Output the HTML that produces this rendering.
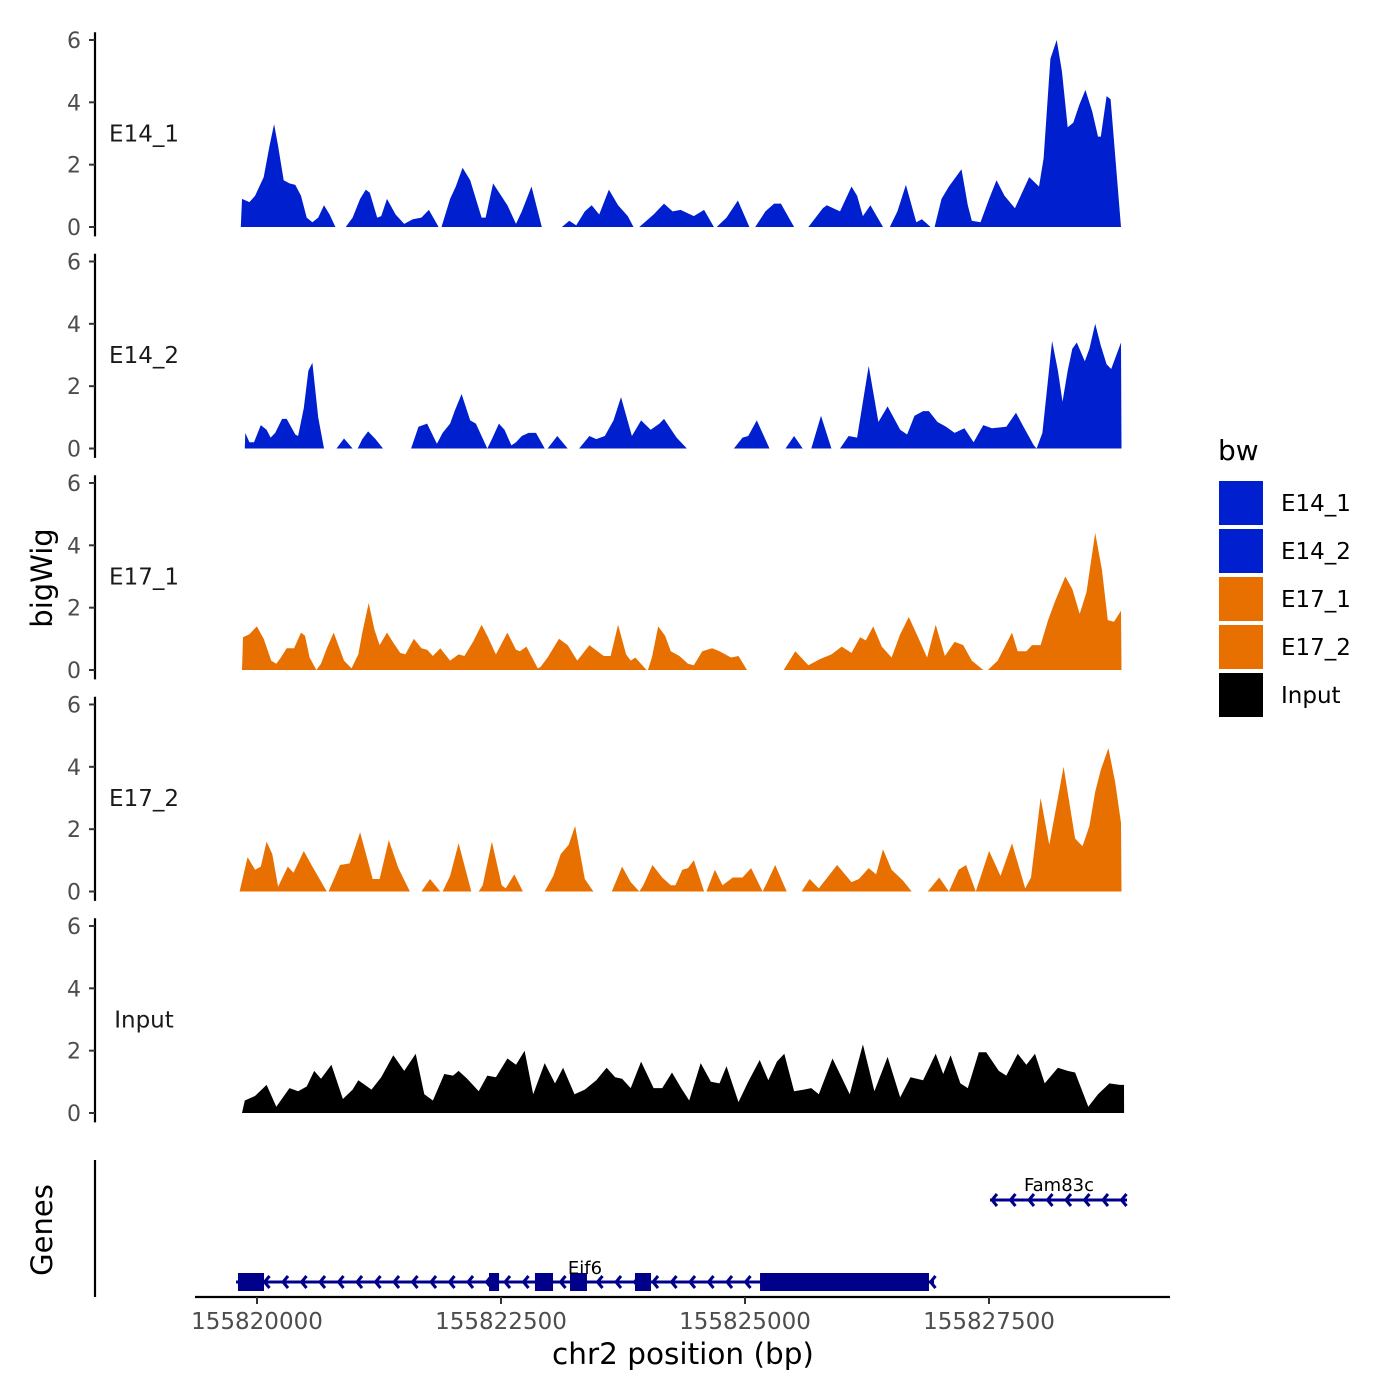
<!DOCTYPE html>
<html><head><meta charset="utf-8"><style>
body{margin:0;background:#fff}
svg{display:block;font-family:"DejaVu Sans","Liberation Sans",sans-serif}
</style></head><body>
<svg id="chart" width="1400" height="1400" viewBox="0 0 1400 1400" xmlns="http://www.w3.org/2000/svg">
<rect width="1400" height="1400" fill="#fff"/>
<g id="tracks"></g>
<g id="genes"></g>
<g id="xaxis"></g>
<text x="52" y="578" font-size="29" text-anchor="middle" transform="rotate(-90 52 578)">bigWig</text>
<text x="52" y="1230" font-size="29" text-anchor="middle" transform="rotate(-90 52 1230)">Genes</text>
<text x="683" y="1364" font-size="29.5" text-anchor="middle">chr2 position (bp)</text>
<g id="legend"></g>
</svg>
<script>
const BASE = 155820000;
const trackNames = ["E14_1","E14_2","E17_1","E17_2","Input"];
const trackColors = ["#0020d0","#0020d0","#e87000","#e87000","#000000"];
const yTicks = [0,2,4,6];
const xTicks = [155820000,155822500,155825000,155827500];
const xTickLabels = ["155820000","155822500","155825000","155827500"];
const N = null;
// positions are bp offsets from BASE; null value separates covered regions
const pos1 = [-166,-154,-78,-19,69,128,175,216,274,333,392,451,509,568,627,686,744,803,N,909,979,1056,1115,1156,1232,1273,1332,1420,1508,1596,1684,1761,1861,N,1890,1978,2037,2107,2184,2301,2342,2419,2566,2654,2713,2812,2918,N,3124,3200,3271,3359,3429,3506,3606,3700,3799,3858,N,3917,4064,4170,4258,4340,4475,4581,4681,N,4710,4810,4927,5045,N,5104,5209,5298,5368,5503,N,5650,5797,5838,5973,6091,6149,6208,6285,6414,N,6484,6561,6649,6755,6813,6902,N,6943,7013,7089,7218,7283,7324,7413,7501,7577,7659,7765,7912,8012,8059,8129,8194,8247,8306,8364,8423,8488,8558,8617,8646,8705,8746,8852];
const val1 = [0,0.9,0.8,1.0,1.6,2.6,3.3,2.6,1.5,1.4,1.35,1.0,0.3,0.15,0.3,0.7,0.4,0,N,0,0.3,0.9,1.2,1.1,0.3,0.35,0.9,0.4,0.1,0.25,0.3,0.55,0,N,0,0.9,1.3,1.9,1.5,0.3,0.3,1.4,0.7,0.1,0.5,1.3,0,N,0,0.2,0.05,0.5,0.7,0.4,1.2,0.7,0.35,0,N,0,0.4,0.75,0.5,0.55,0.35,0.55,0,N,0,0.3,0.85,0,N,0,0.5,0.75,0.75,0,N,0,0.6,0.7,0.5,1.3,1.0,0.35,0.7,0,N,0,0.5,1.35,0.15,0.25,0,N,0,0.9,1.3,1.85,0.7,0.2,0.15,0.9,1.5,1.0,0.6,1.6,1.3,2.2,5.4,6.0,5.0,3.2,3.35,3.9,4.4,3.7,2.9,2.9,4.2,4.1,0];
const pos2 = [-125,-120,-78,-31,39,98,139,186,257,304,392,421,480,527,568,627,686,N,815,891,979,N,1032,1079,1138,1214,1291,N,1579,1655,1743,1843,1902,1978,2025,2096,2184,2243,2360,2407,2478,2536,2607,2654,2713,2783,2859,2948,N,2977,3077,3183,N,3300,3406,3476,3564,3653,3729,3841,3935,4034,4123,4170,4299,4405,N,4886,4974,5033,5121,5251,N,5415,5503,5591,N,5679,5779,5885,N,5973,6061,6149,6208,6267,6367,6461,6590,6661,6737,6825,6884,6972,7060,7148,7248,7342,7442,7530,7677,7777,7853,7959,7988,8047,8147,8206,8253,8306,8353,8400,8482,8529,8588,8646,8705,8752,8852,8858];
const val2 = [0,0.5,0.2,0.2,0.75,0.6,0.35,0.5,0.95,0.95,0.45,0.4,1.3,2.5,2.75,1.0,0,N,0,0.32,0,N,0,0.3,0.55,0.3,0,N,0,0.7,0.8,0.15,0.5,0.8,1.2,1.75,0.9,0.8,0,0.3,0.8,0.6,0.1,0.2,0.4,0.5,0.5,0,N,0,0.4,0,N,0,0.4,0.3,0.4,0.9,1.65,0.4,0.9,0.6,0.8,0.95,0.35,0,N,0,0.35,0.4,0.9,0,N,0,0.4,0,N,0,1.05,0,N,0,0.4,0.35,1.5,2.65,0.85,1.35,0.6,0.45,1.05,1.2,1.2,0.85,0.7,0.5,0.65,0.2,0.75,0.65,0.7,1.15,0.7,0.1,0,0.5,3.45,2.5,1.5,2.5,3.2,3.4,2.8,3.2,4.0,3.3,2.7,2.55,3.4,0];
const pos3 = [-154,-143,-78,-2,69,145,198,245,304,380,451,492,539,609,656,715,786,833,891,968,1038,1079,1144,1203,1256,1332,1391,1467,1520,1608,1684,1743,1802,1878,1978,2066,2125,2213,2301,2360,2448,2566,2654,2695,2760,2877,2906,2977,3094,3183,3282,3406,3488,3553,3623,3700,3782,3829,3876,3976,3993,N,4005,4046,4111,4181,4240,4328,4416,4475,4563,4663,4739,4857,4933,5021,N,5397,5515,5650,5768,5885,5991,6091,6179,6238,6314,6402,6502,6590,6678,6766,6866,6954,7048,7148,7236,7324,7442,N,7489,7589,7736,7794,7883,7941,8029,8106,8176,8282,8353,8429,8499,8588,8658,8717,8781,8852,8858];
const val3 = [0,1.05,1.15,1.4,1.0,0.3,0.2,0.4,0.7,0.7,1.2,1.1,0.4,0,0.2,0.7,1.2,0.8,0.3,0.05,0.5,1.2,2.15,1.3,0.8,1.2,0.9,0.55,0.5,1.0,0.7,0.65,0.45,0.7,0.3,0.5,0.45,0.9,1.45,1.1,0.5,1.2,0.65,0.6,0.75,0.05,0.1,0.4,1.0,0.8,0.3,0.8,0.6,0.45,0.45,1.45,0.5,0.3,0.4,0.05,0,N,0,0.4,1.4,1.1,0.6,0.45,0.2,0.15,0.6,0.7,0.6,0.4,0.45,0,N,0,0.6,0.15,0.35,0.5,0.75,0.55,1.05,0.95,1.4,0.75,0.4,1.15,1.7,1.1,0.4,1.45,0.45,0.9,0.8,0.3,0,N,0,0.3,1.2,0.6,0.6,0.8,0.8,1.6,2.2,3.0,2.6,1.8,2.5,4.4,3.2,1.6,1.55,1.9,0];
const pos4 = [-178,-96,-19,39,98,157,216,316,374,480,568,715,N,733,850,950,1056,1185,1256,1350,1449,1567,N,1684,1773,1878,N,1902,1978,2066,2196,N,2272,2313,2407,2507,2548,2636,2724,N,2948,3036,3112,3194,3259,3359,3447,N,3635,3741,3829,3917,3958,4052,4152,4240,4287,4358,4416,4475,4581,N,4604,4692,4769,4875,4974,5063,5180,5227,5309,5427,N,5580,5662,5756,5944,6091,6167,6267,6343,6414,6502,6619,6708,N,6872,6990,7089,7189,7265,7365,7501,7618,7736,7871,7930,8029,8118,8264,8382,8458,8529,8588,8646,8723,8793,8852,8858];
const val4 = [0,1.1,0.7,0.8,1.6,1.2,0.15,0.8,0.6,1.3,0.8,0,N,0,0.85,0.9,1.9,0.4,0.4,1.65,0.75,0,N,0,0.4,0,N,0,0.5,1.55,0,N,0,0.2,1.6,0.2,0.1,0.55,0,N,0,0.5,1.2,1.5,2.1,0.4,0,N,0,0.8,0.3,0,0.2,0.85,0.45,0.2,0.2,0.7,0.75,1.0,0,N,0,0.7,0.2,0.45,0.45,0.75,0,0.3,0.85,0,N,0,0.4,0.1,0.85,0.3,0.4,0.75,0.55,1.35,0.7,0.35,0,N,0,0.45,0,0.7,0.85,0,1.3,0.5,1.55,0.1,0.45,3.0,1.5,4.0,1.7,1.45,2.1,3.2,3.9,4.6,3.5,2.2,0];
const pos5 = [-154,-125,-19,98,198,333,421,509,586,656,762,880,979,1038,1173,1273,1397,1508,1626,1714,1802,1919,2008,2066,2154,2272,2360,2448,2566,2654,2742,2830,2948,3053,3136,3253,3359,3476,3582,3670,3741,3829,3935,4064,4152,4252,4346,4428,4546,4651,4739,4810,4933,5033,5151,5239,5327,5403,5503,5603,5679,5756,5897,6073,6208,6326,6461,6590,6696,6825,6954,7031,7107,7207,7283,7395,7471,7600,7677,7794,7883,7971,8071,8206,8306,8382,8517,8617,8734,8840,8883,8884];
const val5 = [0,0.4,0.55,0.9,0.2,0.8,0.7,0.85,1.35,1.1,1.55,0.45,0.75,1.05,0.75,1.15,1.85,1.35,1.9,0.6,0.4,1.25,1.2,1.35,1.1,0.7,1.2,1.15,1.75,1.55,2.0,0.6,1.6,0.95,1.45,0.6,0.75,1.05,1.45,1.15,1.1,0.8,1.65,0.8,0.8,1.3,0.8,0.4,1.6,1.0,0.95,1.5,0.35,1.0,1.7,1.05,1.65,1.9,0.7,0.75,0.8,0.6,1.75,0.6,2.2,0.7,1.8,0.5,1.15,1.05,1.9,1.25,1.85,0.95,0.8,1.95,1.95,1.35,1.2,1.9,1.55,1.9,0.95,1.45,1.35,1.3,0.2,0.6,0.95,0.9,0.9,0];
const trackPos = [pos1,pos2,pos3,pos4,pos5];
const trackVals = [val1,val2,val3,val4,val5];
// gene models (bp offsets)
const geneNames = ["Eif6","Fam83c"];
const geneStarts = [-215,7510];
const geneEnds = [6937,8914];
const eifExonStarts = [-195,2377,2848,3207,3873,5154];
const eifExonEnds = [72,2480,3033,3381,4037,6885];

const SVGNS="http://www.w3.org/2000/svg";
function mk(tag,attrs,parent){const e=document.createElementNS(SVGNS,tag);for(const k in attrs)e.setAttribute(k,attrs[k]);parent.appendChild(e);return e;}
function xs(bp){return 257 + (bp - (xTicks[0]-BASE))*(244/2500);}
const PANEL0=227, PSTEP=221.5, UNIT=31.17;
function ys(i,v){return PANEL0 + i*PSTEP - v*UNIT;}

const tracks=document.getElementById('tracks');
for(let i=0;i<5;i++){
  const g=mk('g',{},tracks);
  
  
  const P=trackPos[i], V=trackVals[i];
  let runs=[], cur=[];
  for(let j=0;j<P.length;j++){
    if(V[j]===null){ if(cur.length) runs.push(cur); cur=[]; }
    else cur.push([xs(P[j]),ys(i,V[j])]);
  }
  if(cur.length) runs.push(cur);
  runs.forEach(r=>{
    let d='M'+r[0][0].toFixed(1)+','+ys(i,0).toFixed(1);
    r.forEach(p=>{d+='L'+p[0].toFixed(1)+','+p[1].toFixed(1);});
    d+='L'+r[r.length-1][0].toFixed(1)+','+ys(i,0).toFixed(1)+'Z';
    const a=mk('path',{d:d,fill:trackColors[i]},g);
    
    
  });
  const ax=mk('g',{},g);
  
  
  mk('line',{x1:95,x2:95,y1:ys(i,6.25),y2:ys(i,-0.3),stroke:'#000','stroke-width':2.2},ax);
  yTicks.forEach(t=>{
    mk('line',{x1:89,x2:95,y1:ys(i,t),y2:ys(i,t),stroke:'#333','stroke-width':2},ax);
    const tx=mk('text',{x:81,y:ys(i,t)+8,'font-size':22,'text-anchor':'end',fill:'#4d4d4d'},ax);
    tx.textContent=t;
    
    
  });
  const lb=mk('text',{x:144,y:ys(i,3)+8,'font-size':23,'text-anchor':'middle',fill:'#1a1a1a'},g);
  lb.textContent=trackNames[i];
  
  
}

const gp=document.getElementById('genes');
const GC='#00008b';
mk('line',{x1:95,x2:95,y1:1160,y2:1297,stroke:'#000','stroke-width':2.2},gp);
function chevrons(x1,x2,y,g){
  for(let x=x1+10;x<x2-4;x+=18.5){
    mk('polyline',{points:(x+5)+','+(y-6)+' '+x+','+y+' '+(x+5)+','+(y+6),fill:'none',stroke:GC,'stroke-width':3},g);
  }
}
const eg=mk('g',{},gp);


const ey=1282;
mk('line',{x1:xs(geneStarts[0]),x2:xs(geneEnds[0]),y1:ey,y2:ey,stroke:GC,'stroke-width':3},eg);
chevrons(xs(geneStarts[0]),xs(geneEnds[0])+4,ey,eg);
for(let k=0;k<eifExonStarts.length;k++){
  const r=mk('rect',{x:xs(eifExonStarts[k]),y:ey-9,width:xs(eifExonEnds[k])-xs(eifExonStarts[k]),height:18,fill:GC},eg);
  
  
}
const el=mk('text',{x:585,y:1274,'font-size':18,'text-anchor':'middle',fill:'#000'},eg);
el.textContent=geneNames[0];


const fg=mk('g',{},gp);


const fy=1200;
mk('line',{x1:xs(geneStarts[1]),x2:xs(geneEnds[1]),y1:fy,y2:fy,stroke:GC,'stroke-width':3},fg);
chevrons(xs(geneStarts[1])-8,xs(geneEnds[1])+4,fy,fg);
const fl=mk('text',{x:1059,y:1191,'font-size':18,'text-anchor':'middle',fill:'#000'},fg);
fl.textContent=geneNames[1];



const xa=document.getElementById('xaxis');
mk('line',{x1:195,x2:1170,y1:1297,y2:1297,stroke:'#000','stroke-width':2.2},xa);
xTicks.forEach((t,k)=>{
  const x=xs(t-BASE);
  mk('line',{x1:x,x2:x,y1:1297,y2:1304,stroke:'#333','stroke-width':2},xa);
  const tx=mk('text',{x:x,y:1329,'font-size':23,'text-anchor':'middle',fill:'#4d4d4d'},xa);
  tx.textContent=xTickLabels[k];
  
  
});

const lg=document.getElementById('legend');
const lt=mk('text',{x:1218,y:460,'font-size':28,fill:'#000'},lg);
lt.textContent='bw';


for(let i=0;i<5;i++){
  const e=mk('g',{},lg);
  
  
  const y=481+i*48;
  mk('rect',{x:1219,y:y,width:44,height:44,fill:trackColors[i]},e);
  const t=mk('text',{x:1281,y:y+30,'font-size':23,fill:'#000'},e);
  t.textContent=trackNames[i];
}
</script>
</body></html>
